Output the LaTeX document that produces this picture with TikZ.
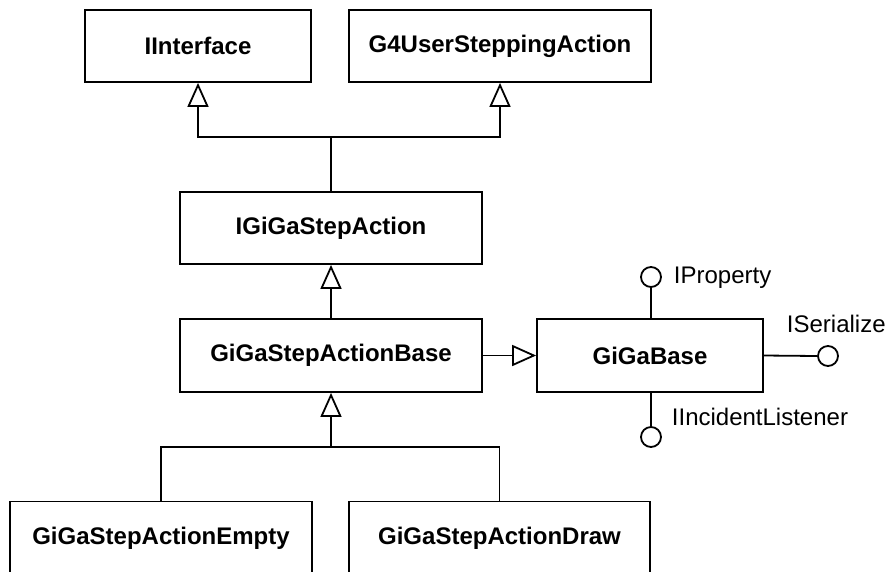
\documentclass[tikz,border=0pt]{standalone}
\usepackage{fontspec}
\setmainfont{Liberation Sans}
\usetikzlibrary{arrows.meta}

\begin{document}
\begin{tikzpicture}[x=1pt,y=-1pt,
  line width=1.8pt,
  cls/.style={draw, rectangle, inner sep=0pt, fill=white,
              font=\fontsize{24}{28}\selectfont\bfseries},
  iface/.style={draw, circle, inner sep=0pt, minimum size=20pt, fill=white},
  lbl/.style={inner sep=0pt, anchor=base west, font=\fontsize{24}{28}\selectfont},
  inh/.style={-{Triangle[length=24pt,width=21pt,fill=white]}}
]
\clip (0,0) rectangle (890,571);
\fill[white] (0,0) rectangle (890,571);

% classes
\node[cls, minimum width=226pt, minimum height=72pt] (ii)   at (198,46)    {IInterface};
\node[cls, minimum width=302pt, minimum height=72pt] (g4)   at (500,46)    {G4UserSteppingAction};
\node[cls, minimum width=302pt, minimum height=72pt] (igsa) at (331,228)   {IGiGaStepAction};
\node[cls, minimum width=302pt, minimum height=73pt] (base) at (331,355.5) {GiGaStepActionBase};
\node[cls, minimum width=226pt, minimum height=73pt] (gb)   at (650,355.5) {GiGaBase};
\node[cls, minimum width=302pt, minimum height=73pt] (emp)  at (161,538)   {GiGaStepActionEmpty};
\node[cls, minimum width=301pt, minimum height=73pt] (drw)  at (499.5,538) {GiGaStepActionDraw};

% inheritance: IGiGaStepAction -> IInterface, G4UserSteppingAction
\coordinate (j1) at (331,137);
\draw (igsa.north) -- (j1);
\draw[inh] (j1) -| (ii.south);
\draw[inh] (j1) -| (g4.south);

% GiGaStepActionBase -> IGiGaStepAction, GiGaBase
\draw[inh] (base.north) -- (igsa.south);
\draw[inh] (base.east) -- (gb.west);

% subclasses of GiGaStepActionBase
\coordinate (j2) at (331,447);
\draw[inh] (j2) -- (base.south);
\draw (j2) -| (emp.north);
\draw (j2) -| (drw.north);

% interfaces of GiGaBase
\node[iface] (ip) at (651,277) {};
\node[iface] (is) at (828,356) {};
\node[iface] (il) at (651,437) {};
\draw (ip.south) -- (ip.south |- gb.north);
\draw (gb.east) -- (is.west);
\draw (il.north) -- (il.north |- gb.south);

\node[lbl] (ipl) at (673,283) {IProperty};
\node[lbl] (isl) at (786,332) {ISerialize};
\node[lbl] (ill) at (671,425) {IIncidentListener};
\end{tikzpicture}
\end{document}
